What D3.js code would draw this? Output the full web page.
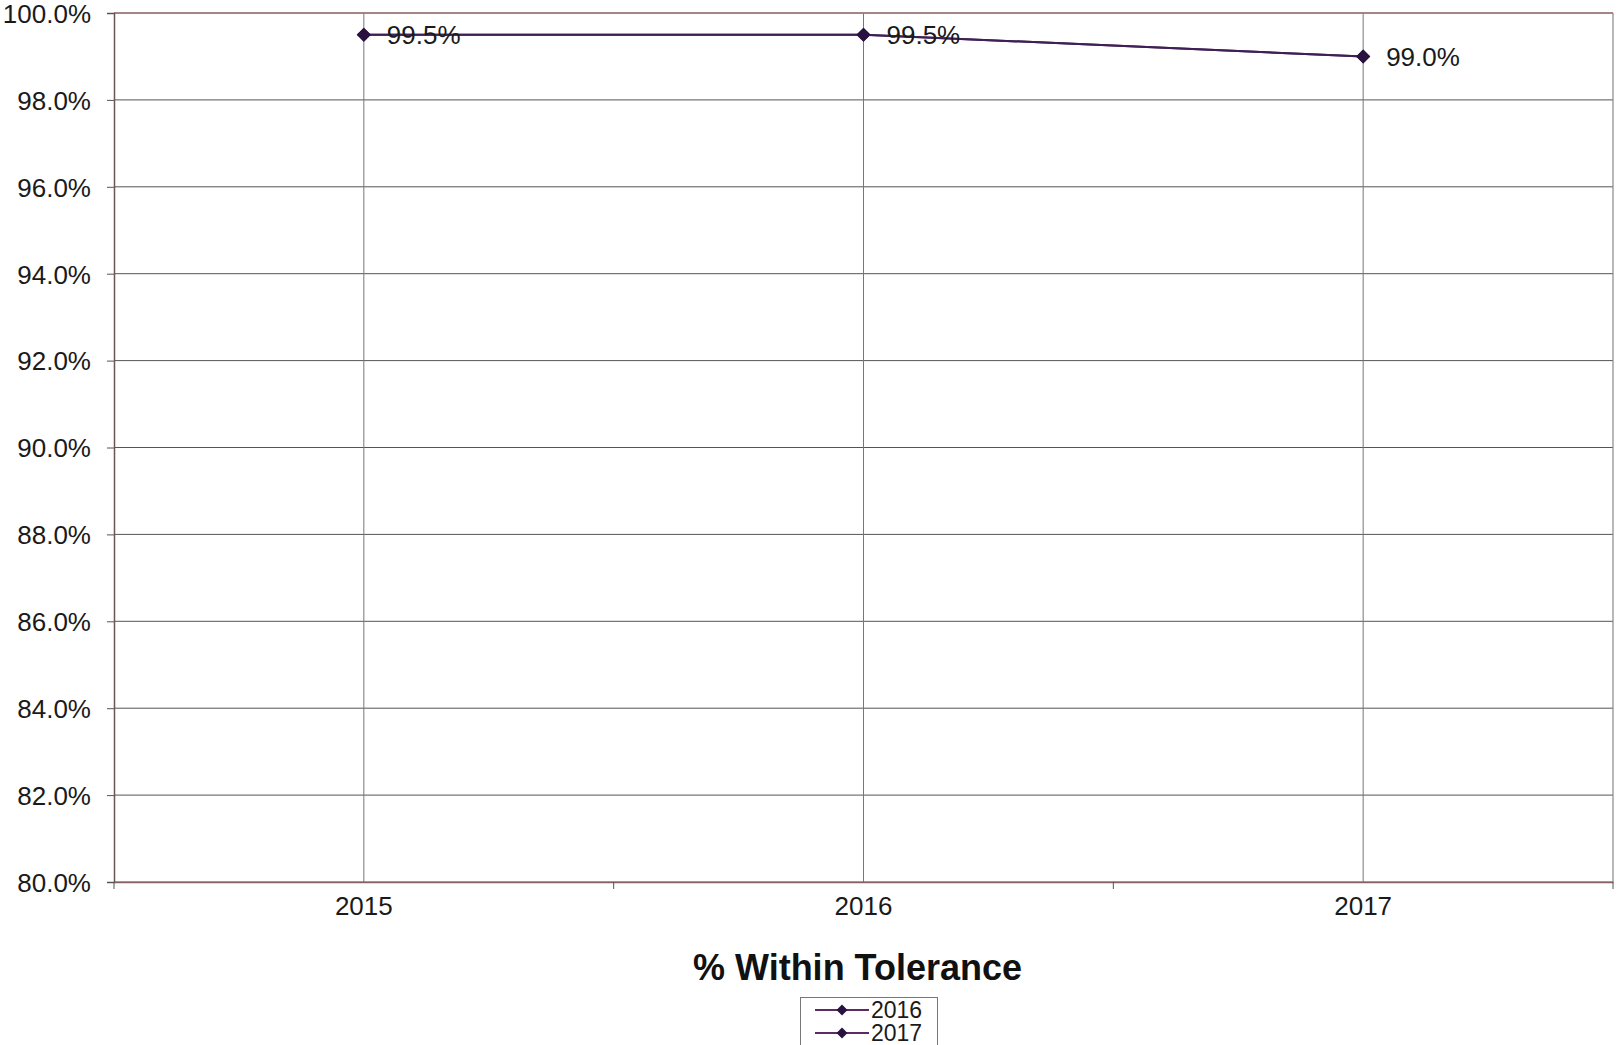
<!DOCTYPE html>
<html><head><meta charset="utf-8">
<script src="https://cdn.jsdelivr.net/npm/d3@7"></script>
<style>body{margin:0;background:#fff;} svg{display:block;font-family:"Liberation Sans",Arial,sans-serif;}</style>
</head><body>
<svg id="c" width="1617" height="1045"></svg>
<script>
const categories = ["2015","2016","2017"];
const series2016 = [99.5, 99.5, 99.0];
const series2017 = [99.5, 99.5, 99.0];
const seriesNames = ["2016","2017"];
const yTicks = [80,82,84,86,88,90,92,94,96,98,100];
const title = "% Within Tolerance";

const svg = d3.select("#c");
const L = 114, R = 1613, T = 13, B = 882;
const x = d3.scaleBand().domain(categories).range([L, R]);
const y = d3.scaleLinear().domain([80, 100]).range([B, T]);
const lineColor = "#3f1f55", markColor = "#2a1240";

// horizontal gridlines
svg.append("g").selectAll("line").data(yTicks).join("line")
  .attr("x1", L).attr("x2", R).attr("y1", d => y(d)).attr("y2", d => y(d))
  .attr("stroke", "#555").attr("stroke-width", 1);
// vertical gridlines at category centers
svg.append("g").selectAll("line").data(categories).join("line")
  .attr("x1", d => x(d) + x.bandwidth()/2).attr("x2", d => x(d) + x.bandwidth()/2)
  .attr("y1", T).attr("y2", B).attr("stroke", "#777").attr("stroke-width", 1);

// borders
svg.append("line").attr("x1", L).attr("x2", R).attr("y1", T).attr("y2", T).attr("stroke", "#a07a78").attr("stroke-width", 1.5);
svg.append("line").attr("x1", R).attr("x2", R).attr("y1", T).attr("y2", B).attr("stroke", "#888").attr("stroke-width", 1.2);

// y axis
const yAxis = d3.axisLeft(y).tickValues(yTicks).tickSize(7).tickFormat(d => d.toFixed(1) + "%");
const gy = svg.append("g").attr("transform", `translate(${L},0)`).call(yAxis);
gy.select(".domain").attr("stroke", "#6a5555").attr("stroke-width", 1.5);
gy.selectAll(".tick line").attr("stroke", "#555");
gy.selectAll(".tick text").attr("font-size", 26).attr("fill", "#1a1a1a").attr("x", -23).attr("dy", "0.36em")
  .attr("font-family", "Liberation Sans, Arial, sans-serif");

// x axis
const xAxis = d3.axisBottom(x).tickSize(0).tickPadding(14);
const gx = svg.append("g").attr("transform", `translate(0,${B})`).call(xAxis);
gx.select(".domain").attr("stroke", "#8a6262").attr("stroke-width", 1.5);
gx.selectAll(".tick text").attr("font-size", 26).attr("fill", "#1a1a1a").attr("dy", "0.72em")
  .attr("font-family", "Liberation Sans, Arial, sans-serif");
// ticks at band boundaries
const bounds = categories.map(c => x(c)).concat([x(categories[categories.length-1]) + x.bandwidth()]);
svg.append("g").selectAll("line").data(bounds).join("line")
  .attr("x1", d => d).attr("x2", d => d).attr("y1", B).attr("y2", B + 7).attr("stroke", "#555");

// series
const cx = c => x(c) + x.bandwidth()/2;
const line = d3.line().x((d,i) => cx(categories[i])).y(d => y(d));
const diamond = d3.symbol().type(d3.symbolSquare).size(100);
[series2016, series2017].forEach(s => {
  svg.append("path").datum(s).attr("d", line).attr("fill", "none").attr("stroke", lineColor).attr("stroke-width", 2);
  svg.append("g").selectAll("path").data(s).join("path")
    .attr("d", diamond).attr("transform", (d,i) => `translate(${cx(categories[i])},${y(d)}) rotate(45)`)
    .attr("fill", markColor);
});
// data labels
svg.append("g").selectAll("text").data(series2016).join("text")
  .attr("x", (d,i) => cx(categories[i]) + 23).attr("y", d => y(d)).attr("dy", "0.36em")
  .attr("font-size", 26).attr("fill", "#1a1a1a").text(d => d.toFixed(1) + "%");

// title
svg.append("text").attr("x", (L + R)/2 - 6).attr("y", 980).attr("text-anchor", "middle")
  .attr("font-size", 36).attr("font-weight", "bold").attr("fill", "#111").text(title);

// legend
const lg = svg.append("g");
lg.append("rect").attr("x", 800.5).attr("y", 997.5).attr("width", 137).attr("height", 48)
  .attr("fill", "#fff").attr("stroke", "#777").attr("stroke-width", 1);
seriesNames.forEach((n, i) => {
  const yy = 1010 + i * 23;
  lg.append("line").attr("x1", 815).attr("x2", 869).attr("y1", yy).attr("y2", yy).attr("stroke", "#5a2d62").attr("stroke-width", 2);
  lg.append("path").attr("d", d3.symbol().type(d3.symbolSquare).size(60)).attr("transform", `translate(842,${yy}) rotate(45)`).attr("fill", markColor);
  lg.append("text").attr("x", 871).attr("y", yy).attr("dy", "0.36em").attr("font-size", 23).attr("fill", "#1a1a1a").text(n);
});
</script>
</body></html>
